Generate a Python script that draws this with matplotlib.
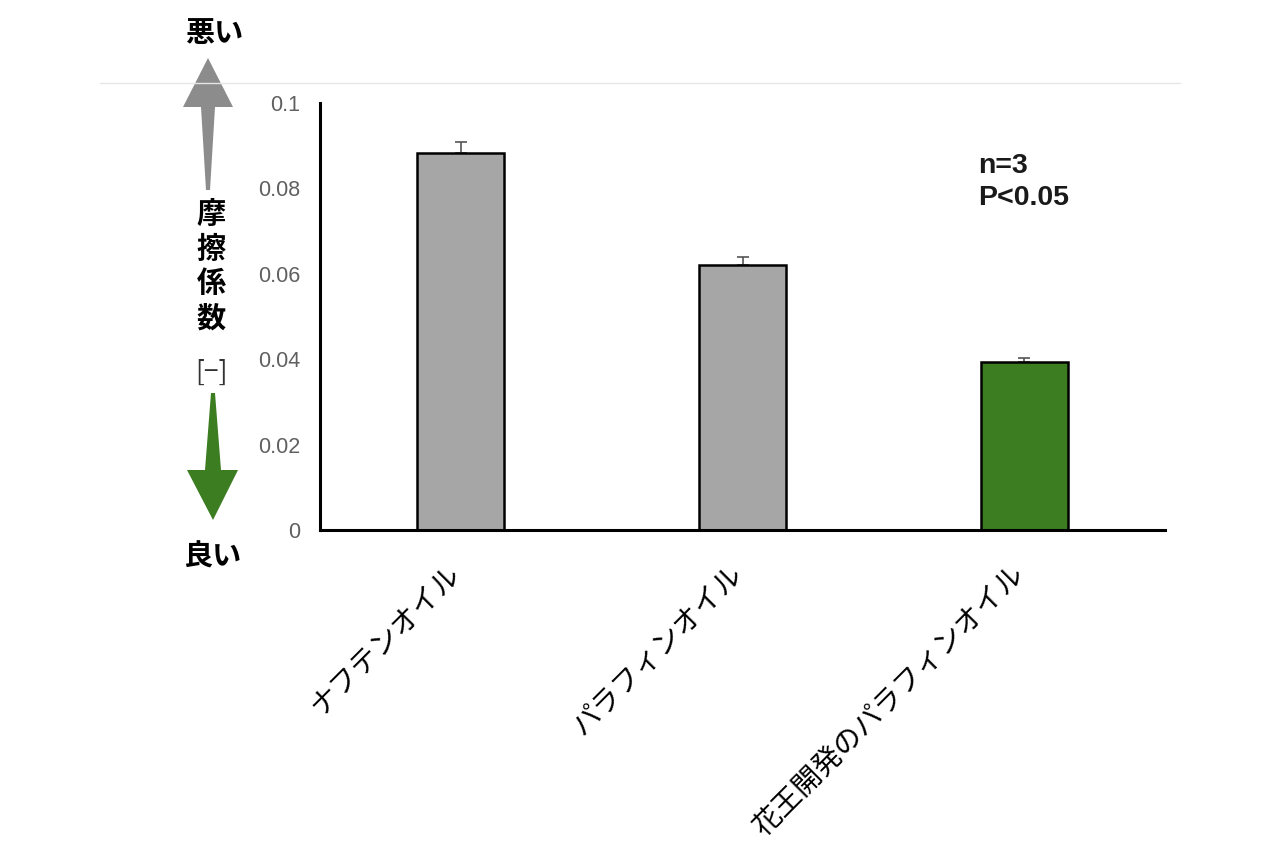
import matplotlib
matplotlib.use("Agg")
import matplotlib.pyplot as plt
from matplotlib.patches import Polygon
from matplotlib.transforms import ScaledTranslation

plt.rcParams["font.family"] = ["Noto Sans CJK JP", "DejaVu Sans"]

# data
categories = ["ナフテンオイル", "パラフィンオイル", "花王開発のパラフィンオイル"]
friction = [0.0883, 0.0621, 0.0393]
errors = [0.0026, 0.0019, 0.0009]
bar_colors = ["#a6a6a6", "#a6a6a6", "#3c7d22"]
yticks = [0, 0.02, 0.04, 0.06, 0.08, 0.1]
ytick_labels = ["0", "0.02", "0.04", "0.06", "0.08", "0.1"]

W, H = 1280, 852
fig = plt.figure(figsize=(W / 100, H / 100), dpi=100)

# overlay in pixel coords for the side decorations
deco = fig.add_axes([0, 0, 1, 1], zorder=0)
deco.set_xlim(0, W)
deco.set_ylim(H, 0)
deco.axis("off")

ax = fig.add_axes([320 / W, 1 - 530 / H, (1165 - 320) / W, (530 - 103) / H], zorder=1)
ax.patch.set_alpha(0)

x = list(range(len(categories)))
ax.bar(x, friction, width=0.31, color=bar_colors, edgecolor="black", linewidth=1.8, zorder=2)
ax.errorbar(x, friction, yerr=[[0] * len(errors), errors], fmt="none",
            ecolor="#555555", elinewidth=1.2, capsize=4.5, capthick=1.2, zorder=1)

ax.set_xlim(-0.5, 2.5)
ax.set_ylim(0, 0.1)
ax.set_yticks(yticks)
ax.set_yticklabels(ytick_labels, family=["Liberation Sans", "DejaVu Sans"],
                   fontsize=15.5, color="#606060")
ax.set_xticks(x)
ax.set_xticklabels(categories, rotation=45, ha="right", va="top", fontsize=20.5)
ax.tick_params(axis="y", length=0, pad=14)
ax.tick_params(axis="x", length=0, pad=21)
# nudge the slanted labels a little to the right
shift = ScaledTranslation(6 / 100, 0, fig.dpi_scale_trans)
for lbl in ax.get_xticklabels():
    lbl.set_transform(lbl.get_transform() + shift)

for side in ["top", "right"]:
    ax.spines[side].set_visible(False)
for side in ["left", "bottom"]:
    ax.spines[side].set_linewidth(2.2)
    ax.spines[side].set_color("black")

ax.text(0.779, 0.884, "n=3\nP<0.05", transform=ax.transAxes, fontsize=20.5,
        fontweight="bold", family=["Liberation Sans", "DejaVu Sans"],
        va="top", ha="left", linespacing=1.3, color="#1a1a1a")

# thin separator line at the top
deco.plot([100, 1180], [83, 83], color="#e6e6e6", linewidth=1)

# gray "worse" arrow pointing up
deco.add_patch(Polygon([(208, 58), (233, 107), (215, 107), (210, 190), (206, 190),
                        (201, 107), (183, 107)], closed=True, color="#8c8c8c", lw=0))
# green "better" arrow pointing down
deco.add_patch(Polygon([(213, 520), (238, 470), (221, 470), (215, 393), (211, 393),
                        (205, 470), (187, 470)], closed=True, color="#3c7d22", lw=0))

deco.text(214, 33, "悪い", fontsize=21, fontweight="bold", ha="center", va="center")
deco.text(211, 266, "摩\n擦\n係\n数", fontsize=21, fontweight="bold", ha="center",
          va="center", linespacing=1.2)
deco.text(211, 372, "[−]", fontsize=19, ha="center", va="center", color="#333333")
deco.text(212, 557, "良い", fontsize=21, fontweight="bold", ha="center", va="center")

fig.savefig("out.png", dpi=100)
